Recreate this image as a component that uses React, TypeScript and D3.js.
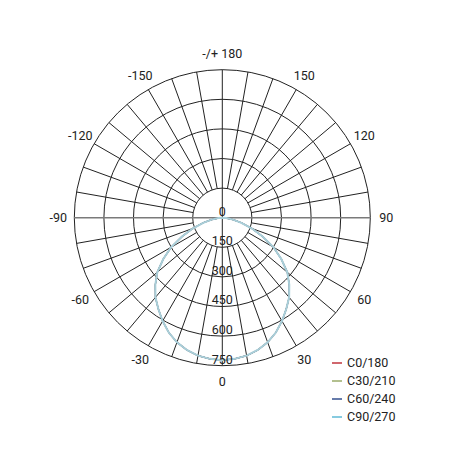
import { useEffect, useRef } from 'react';
import * as d3 from 'd3';

// gamma angles (deg) and luminous intensity (cd/klm)
const gammaAngles = [
  -90, -85, -80, -75, -70, -65, -60, -55, -50, -45, -40, -35, -30, -25, -20, -15, -10, -5,
  0, 5, 10, 15, 20, 25, 30, 35, 40, 45, 50, 55, 60, 65, 70, 75, 80, 85, 90,
];
const intensityC0 = [
  0, 20, 55, 100, 160, 225, 300, 365, 430, 480, 527, 565, 605, 642, 672, 694, 710, 718,
  722, 718, 710, 694, 672, 642, 605, 565, 527, 480, 430, 365, 300, 225, 160, 100, 55, 20, 0,
];
const intensityC30 = intensityC0;
const intensityC60 = intensityC0;
const intensityC90 = intensityC0;

const seriesNames = ['C0/180', 'C30/210', 'C60/240', 'C90/270'];
const seriesData = [intensityC0, intensityC30, intensityC60, intensityC90];
const seriesColors = ['#c0343c', '#9aab6a', '#34508f', '#5fbad6'];

const ringValues = [0, 150, 300, 450, 600, 750];
const angleLabels = [0, 30, 60, 90, 120, 150, 180, -150, -120, -90, -60, -30];

const cx = 222.3;
const cy = 217.7;
const outerR = 148;
const font = 'Roboto, "DejaVu Sans", sans-serif';

export default function App() {
  const svgRef = useRef<SVGSVGElement>(null);

  useEffect(() => {
    if (!svgRef.current) return;
    const svg = d3.select(svgRef.current);
    svg.selectAll('*').remove();

    const r = d3.scaleLinear().domain([0, 750]).range([0, outerR]);
    const toRad = (deg: number) => Math.PI - (deg * Math.PI) / 180;

    const g = svg.append('g').attr('transform', `translate(${cx},${cy})`);

    // rings
    g.selectAll('circle.ring')
      .data(ringValues.slice(1))
      .join('circle')
      .attr('class', 'ring')
      .attr('r', (d) => r(d))
      .attr('fill', 'none')
      .attr('stroke', '#222')
      .attr('stroke-width', 1);

    // radial spokes every 10 deg
    const spokes = d3.range(0, 360, 10).filter((a) => a % 90 !== 0);
    g.selectAll('line.spoke')
      .data(spokes)
      .join('line')
      .attr('class', 'spoke')
      .attr('x1', (a) => r(150) * Math.sin(toRad(a)))
      .attr('y1', (a) => -r(150) * Math.cos(toRad(a)))
      .attr('x2', (a) => r(750) * Math.sin(toRad(a)))
      .attr('y2', (a) => -r(750) * Math.cos(toRad(a)))
      .attr('stroke', '#222')
      .attr('stroke-width', 1);

    // main axes
    g.append('line')
      .attr('x1', -r(750))
      .attr('x2', r(750))
      .attr('y1', 0)
      .attr('y2', 0)
      .attr('stroke', '#7a7a7a')
      .attr('stroke-width', 1.4);
    g.append('line')
      .attr('x1', 0)
      .attr('x2', 0)
      .attr('y1', -r(750))
      .attr('y2', r(750))
      .attr('stroke', '#222')
      .attr('stroke-width', 1);

    // curves (all C-planes coincide, C90/270 drawn on top)
    const line = d3
      .lineRadial<number>()
      .angle((_, i) => toRad(gammaAngles[i]))
      .radius((d) => r(d));
    seriesData.forEach((vals, i) => {
      g.append('path')
        .attr('d', line(vals))
        .attr('fill', 'none')
        .attr('stroke', i === 3 ? '#a9cfd9' : seriesColors[i])
        .attr('stroke-width', i === 3 ? 2 : 1.2);
    });

    // ring labels
    g.selectAll('text.ringLabel')
      .data(ringValues)
      .join('text')
      .attr('class', 'ringLabel')
      .attr('x', 0)
      .attr('y', (d) => r(d) - 2)
      .attr('text-anchor', 'middle')
      .attr('font-family', font)
      .attr('font-size', 12.5)
      .attr('fill', '#222')
      .text((d) => String(d));

    // angle labels
    g.selectAll('text.angleLabel')
      .data(angleLabels)
      .join('text')
      .attr('class', 'angleLabel')
      .attr('x', (a) => 164 * Math.sin(toRad(a)))
      .attr('y', (a) => -164 * Math.cos(toRad(a)))
      .attr('dy', '0.35em')
      .attr('text-anchor', 'middle')
      .attr('font-family', font)
      .attr('font-size', 12.5)
      .attr('fill', '#222')
      .text((a) => (a === 180 ? '-/+ 180' : String(a)));

    // legend
    const legend = svg.append('g').attr('transform', 'translate(332,363)');
    const rows = legend
      .selectAll('g')
      .data(seriesNames)
      .join('g')
      .attr('transform', (_, i) => `translate(0,${i * 18})`);
    rows
      .append('line')
      .attr('x1', 0)
      .attr('x2', 10)
      .attr('stroke', (_, i) => seriesColors[i])
      .attr('stroke-width', 1.5);
    rows
      .append('text')
      .attr('x', 15)
      .attr('dy', '0.35em')
      .attr('font-family', font)
      .attr('font-size', 12.5)
      .attr('fill', '#222')
      .text((d) => d);
  }, []);

  return (
    <svg
      ref={svgRef}
      width={456}
      height={456}
      style={{ position: 'absolute', left: 0, top: 0, background: '#fff' }}
    />
  );
}
